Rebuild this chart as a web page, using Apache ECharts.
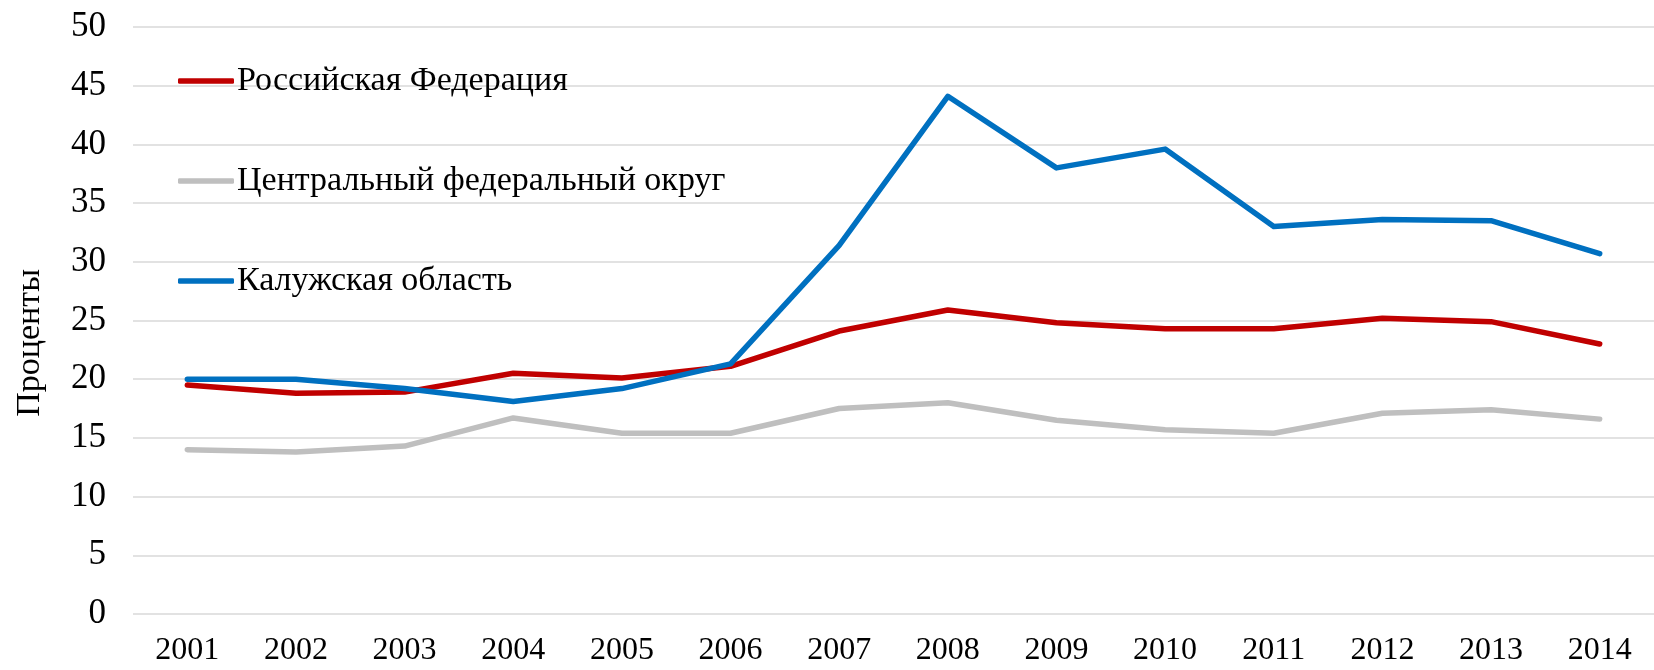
<!DOCTYPE html>
<html>
<head>
<meta charset="utf-8">
<script src="https://cdn.jsdelivr.net/npm/echarts@6/dist/echarts.min.js"></script>
<style>
  html, body { margin: 0; padding: 0; background: #fff; }
  #chart { width: 1654px; height: 670px; }
</style>
</head>
<body>
<div id="chart"></div>
<script>
  // годы и значения, проценты
  const years = ['2001', '2002', '2003', '2004', '2005', '2006', '2007',
    '2008', '2009', '2010', '2011', '2012', '2013', '2014']
  const rf = [19.5, 18.8, 18.9, 20.5, 20.1, 21.1, 24.1, 25.9, 24.8, 24.3, 24.3, 25.2, 24.9, 23.0]
  const cfo = [14.0, 13.8, 14.3, 16.7, 15.4, 15.4, 17.5, 18.0, 16.5, 15.7, 15.4, 17.1, 17.4, 16.6]
  const kaluga = [20.0, 20.0, 19.2, 18.1, 19.2, 21.3, 31.4, 44.1, 38.0, 39.6, 33.0, 33.6, 33.5, 30.7]
  const names = ['Российская Федерация', 'Центральный федеральный округ', 'Калужская область']
  const colors = ['#C00000', '#BFBFBF', '#0070C0']

  const font = '"Liberation Serif", "Times New Roman", serif'

  const chart = echarts.init(document.getElementById('chart'))

  const lineSeries = (name, data, color) => ({
    name: name,
    type: 'line',
    data: data,
    symbol: 'none',
    smooth: false,
    itemStyle: { color: color },
    lineStyle: { color: color, width: 5.5, cap: 'round', join: 'round' }
  })

  const option = {
    animation: false,
    textStyle: { fontFamily: font },
    grid: {
      left: 133,
      right: -12,
      top: 27,
      bottom: 56,
      containLabel: false
    },
    legend: {
      orient: 'vertical',
      left: 173,
      top: 59,
      itemWidth: 56,
      itemHeight: 5.5,
      itemGap: 66,
      icon: 'roundRect',
      data: names,
      textStyle: {
        fontFamily: font,
        fontSize: 34,
        color: '#000',
        lineHeight: 34,
        padding: [0, 0, 0, -2]
      }
    },
    xAxis: {
      type: 'category',
      data: years,
      boundaryGap: true,
      axisTick: { show: false },
      axisLine: { show: false },
      axisLabel: {
        margin: 21,
        color: '#000',
        fontFamily: font,
        fontSize: 32
      }
    },
    yAxis: {
      type: 'value',
      min: 0,
      max: 50,
      interval: 5,
      axisLine: { show: false },
      axisTick: { show: false },
      splitLine: { lineStyle: { color: '#D9D9D9', width: 1.5 } },
      axisLabel: {
        margin: 27,
        color: '#000',
        fontFamily: font,
        fontSize: 35
      }
    },
    graphic: [
      {
        type: 'text',
        left: 13,
        top: 269,
        rotation: Math.PI / 2,
        style: {
          text: 'Проценты',
          fontFamily: font,
          fontSize: 34,
          fill: '#000'
        }
      }
    ],
    series: [
      lineSeries(names[0], rf, colors[0]),
      lineSeries(names[1], cfo, colors[1]),
      lineSeries(names[2], kaluga, colors[2])
    ]
  }

  chart.setOption(option)
</script>
</body>
</html>
